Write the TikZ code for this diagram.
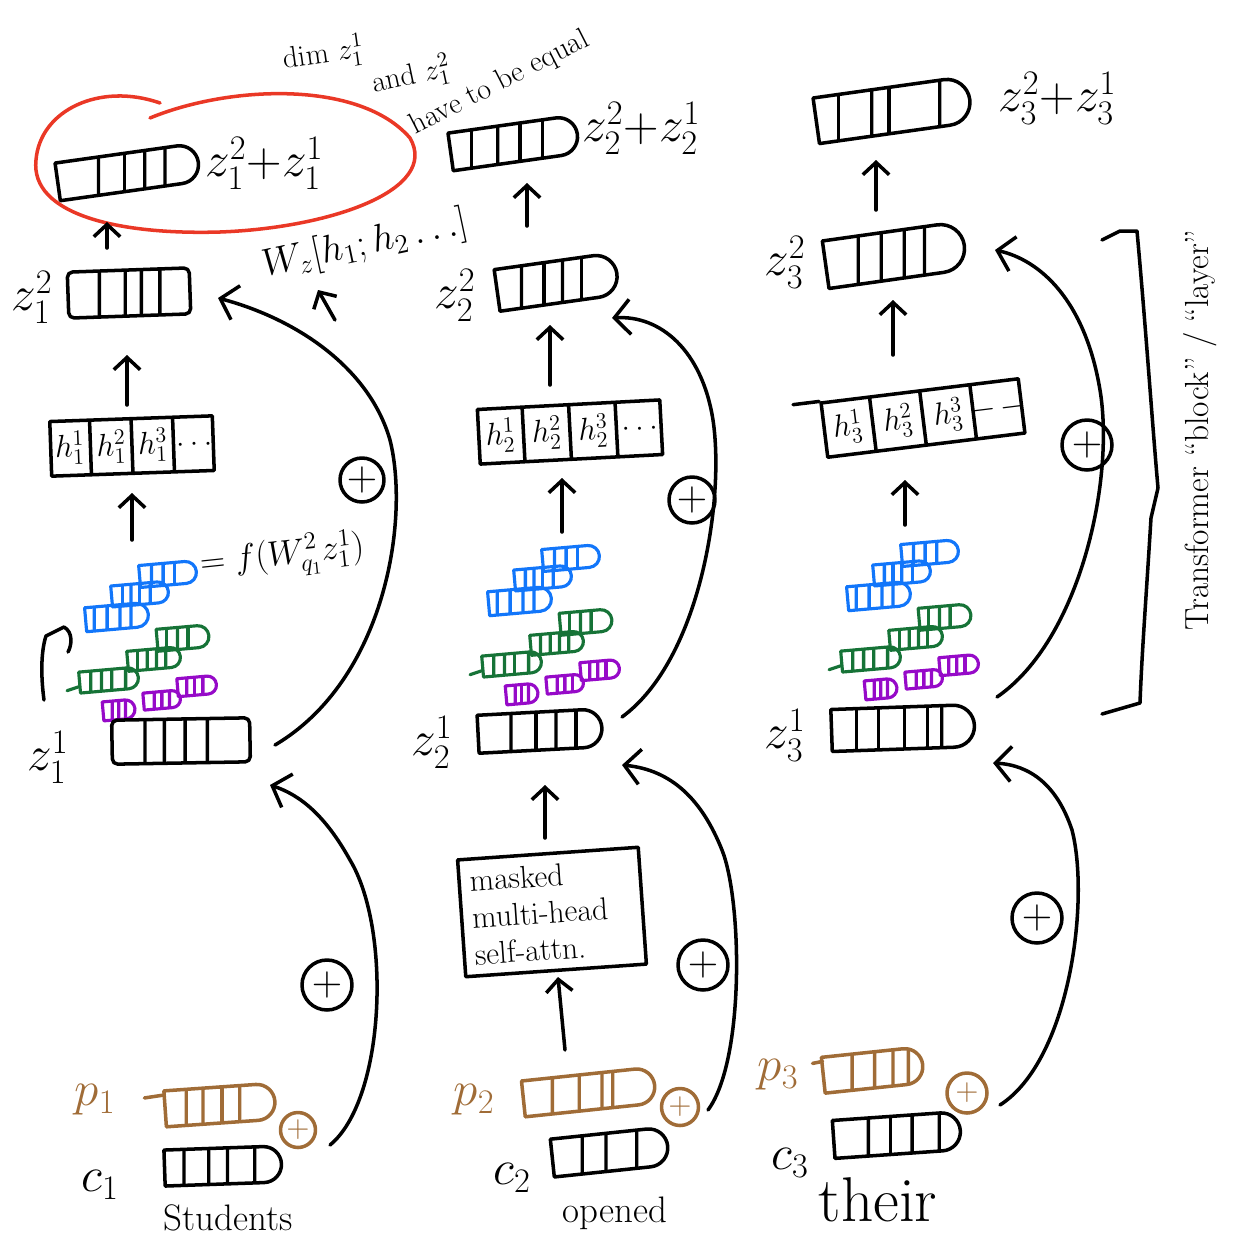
\RequirePackage{fix-cm}
\documentclass[tikz,border=0pt]{standalone}
\usepackage{fontspec}
\usetikzlibrary{arrows.meta,shapes.misc,shapes.multipart,calc}
\definecolor{inkblue}{RGB}{18,118,250}
\definecolor{inkgreen}{RGB}{22,115,55}
\definecolor{inkpurple}{RGB}{150,10,200}
\definecolor{inkbrown}{RGB}{160,108,55}
\definecolor{inkred}{RGB}{234,56,38}

\tikzset{
  ink/.style={line width=2pt, line cap=round, line join=round},
  cells/.style={path picture={\foreach \f in {#1}{\draw[line width=1.9pt]
      ($(path picture bounding box.south west)!\f!(path picture bounding box.south east)$) --
      ($(path picture bounding box.north west)!\f!(path picture bounding box.north east)$);}}},
  vec/.style={draw, rounded rectangle, rounded rectangle left arc=none, inner sep=0pt, line width=2pt},
  vecsq/.style={draw, rectangle, rounded corners=3pt, inner sep=0pt, line width=2pt},
  sv/.style={vec, line width=1.8pt, rotate=5},
  hrow/.style={draw, rectangle split, rectangle split horizontal, rectangle split parts=4,
    inner xsep=2pt, inner ysep=6pt, line width=2pt, font=\fontsize{18}{20}\selectfont},
  addc/.style={draw, circle, inner sep=0pt, line width=2pt, font=\fontsize{24}{26}\selectfont},
  lab/.style={font=\fontsize{28}{30}\selectfont, inner sep=0pt},
  word/.style={font=\fontsize{21}{24}\selectfont, inner sep=0pt},
  anno/.style={font=\fontsize{17}{19}\selectfont, inner sep=0pt},
  arr/.style={line width=2pt, -{Straight Barb[length=7pt,width=15pt]}},
  bigarr/.style={line width=2pt, -{Straight Barb[length=9pt,width=20pt]}},
}

% query / key / value vectors: three blue, three green, three purple
\newcommand\qkvstack[3]{%
  \begin{scope}[shift={(#2,#3)}]
    \node[sv, color=inkblue, minimum width=1.14cm, minimum height=0.44cm, cells={0.22,0.42,0.62}] (#1b1) at (0,0) {};
    \node[sv, color=inkblue, minimum width=1.14cm, minimum height=0.42cm, cells={0.2,0.35,0.5,0.68}] (#1b2) at (-28,20) {};
    \node[sv, color=inkblue, minimum width=1.26cm, minimum height=0.48cm, cells={0.15,0.35,0.55,0.72}] (#1b3) at (-51,43) {};
    \node[sv, color=inkgreen, minimum width=1.04cm, minimum height=0.44cm, cells={0.2,0.4,0.6}] (#1g1) at (15,64) {};
    \node[sv, color=inkgreen, minimum width=1.06cm, minimum height=0.40cm, cells={0.2,0.38,0.55,0.72}] (#1g2) at (-14,85) {};
    \node[sv, color=inkgreen, minimum width=1.18cm, minimum height=0.42cm, cells={0.2,0.38,0.55,0.78}] (#1g3) at (-59,106) {};
    \draw[inkgreen, ink, line width=1.8pt] ($(#1g3.west)+(1,4)$) -- ++(-12,4);
    \node[sv, color=inkpurple, minimum width=0.64cm, minimum height=0.38cm, cells={0.3,0.5,0.7}] (#1p1) at (-49,136) {};
    \node[sv, color=inkpurple, minimum width=0.74cm, minimum height=0.34cm, cells={0.3,0.5,0.7}] (#1p2) at (-6,126) {};
    \node[sv, color=inkpurple, minimum width=0.78cm, minimum height=0.36cm, cells={0.25,0.45,0.65}] (#1p3) at (29,112) {};
  \end{scope}}

\begin{document}
\begin{tikzpicture}[x=0.02cm, y=-0.02cm, line cap=round, line join=round]
\useasboundingbox (0,0) rectangle (1235,1245);

% ---------------- position 1: "Students" ----------------
\node[vec, rotate=8, minimum width=2.84cm, minimum height=0.76cm, cells={0.3,0.48,0.62,0.76}] (zt1) at (128,172) {};
\node[lab, anchor=west] (lzt1) at (205,163) {$z_1^2{+}z_1^1$};
\draw[inkred, ink] (150,118) .. controls (230,85) and (360,80) .. (410,138)
  .. controls (440,190) and (330,228) .. (220,232)
  .. controls (120,235) and (30,215) .. (36,160)
  .. controls (40,110) and (100,82) .. (160,103);

\node[anno, anchor=west, rotate=8] (dimnote) at (283,60) {dim $z_1^1$};
\node[anno, anchor=west, rotate=12] (andnote) at (372,84) {and $z_1^2$};
\node[anno, anchor=west, rotate=27] (havenote) at (412,128) {have to be equal};

\node[vecsq, rotate=2, minimum width=2.44cm, minimum height=0.92cm, cells={0.26,0.47,0.6,0.75}] (z12) at (129,293) {};
\node[lab] (lz12) at (32,297) {$z_1^2$};
\node[font=\fontsize{22}{24}\selectfont, inner sep=0pt, rotate=12] (wz) at (365,245) {$W_z[h_1;h_2\ldots]$};

\node[hrow, rotate=2] (h1) at (132,446) {\makebox[0.62cm]{$h_1^1$}\nodepart{two}\makebox[0.62cm]{$h_1^2$}\nodepart{three}\makebox[0.62cm]{$h_1^3$}\nodepart{four}\makebox[0.62cm]{$\ldots$}};

\qkvstack{s1}{168}{574}
\node[font=\fontsize{20}{22}\selectfont, inner sep=0pt, anchor=west, rotate=6] (fq) at (200,566) {$=f(W_{q_1}^{2}z_1^1)$};
\draw[ink] (44,700) .. controls (40,670) and (42,648) .. (46,636) -- (64,627) .. controls (73,632) and (72,645) .. (68,652);

\node[vecsq, rotate=1, minimum width=2.76cm, minimum height=0.88cm, cells={0.24,0.38,0.53,0.69}] (z11) at (181,741) {};
\node[lab] (lz11) at (48,757) {$z_1^1$};

\node[addc, minimum size=0.88cm] (add1) at (362,480) {$+$};
\node[addc, minimum size=1cm] (add1b) at (327,985) {$+$};

\node[vec, color=inkbrown, rotate=4, minimum width=2.2cm, minimum height=0.72cm, cells={0.2,0.35,0.52,0.68}] (p1v) at (220,1105) {};
\draw[inkbrown, ink] ($(p1v.west)+(1,-14)$) -- ++(-20,3);
\node[lab, text=inkbrown] (lp1) at (95,1100) {$p_1$};
\node[addc, color=inkbrown, minimum size=0.7cm, font=\fontsize{18}{20}\selectfont] (pp1) at (298,1130) {$+$};
\node[vec, rotate=2, minimum width=2.34cm, minimum height=0.72cm, cells={0.17,0.38,0.54,0.77}] (c1v) at (223,1166) {};
\node[lab] (lc1) at (100,1185) {$c_1$};
\node[word] (w1) at (228,1218) {Students};

% arrows, position 1
\draw[arr] ($(z12)+(-22,-45)$) -- ($(zt1)+(-21,50)$);
\draw[arr] ($(h1)+(-5,-41)$) -- ($(z12)+(-2,62)$);
\draw[arr] ($(s1b1)+(-36,-34)$) -- ($(h1)+(0,47)$);
\draw[arr] ($(wz)+(-30,75)$) -- ($(wz)+(-47,45)$);
\draw[bigarr] ($(z11)+(94,4)$) .. controls (385,680) and (410,520) .. (390,440)
  .. controls (370,370) and (300,320) .. ($(z12)+(89,5)$);
\draw[bigarr] ($(pp1)+(32,15)$) .. controls (385,1100) and (392,930) .. (350,860)
  .. controls (325,815) and (300,795) .. ($(z11)+(89,44)$);

% ---------------- position 2: "opened" ----------------
\node[vec, rotate=8, minimum width=2.56cm, minimum height=0.76cm, cells={0.18,0.38,0.55,0.72}] (zt2) at (514,143) {};
\node[lab, anchor=west] (lzt2) at (582,128) {$z_2^2{+}z_2^1$};
\node[vec, rotate=8, minimum width=2.42cm, minimum height=0.84cm, cells={0.22,0.4,0.55,0.7}] (z22) at (557,282) {};
\node[lab] (lz22) at (455,295) {$z_2^2$};
\node[hrow, rotate=3] (h2) at (570,432) {\makebox[0.72cm]{$h_2^1$}\nodepart{two}\makebox[0.72cm]{$h_2^2$}\nodepart{three}\makebox[0.72cm]{$h_2^3$}\nodepart{four}\makebox[0.72cm]{$\ldots$}};
\qkvstack{s2}{571}{558}
\node[vec, rotate=3, minimum width=2.48cm, minimum height=0.76cm, cells={0.27,0.47,0.63,0.79}] (z21) at (540,731) {};
\node[lab] (lz21) at (432,742) {$z_2^1$};
\node[draw, line width=2pt, rotate=4, text width=3.2cm, minimum height=2.3cm, align=left,
  font=\fontsize{18}{21}\selectfont, inner sep=6pt] (mask) at (552,912) {masked\\multi-head\\self-attn.};
\node[addc, minimum size=0.92cm] (add2) at (692,500) {$+$};
\node[addc, minimum size=1cm] (add2b) at (703,965) {$+$};
\node[vec, color=inkbrown, rotate=6, minimum width=2.64cm, minimum height=0.72cm, cells={0.23,0.43,0.6,0.68}] (p2v) at (589,1092) {};
\node[lab, text=inkbrown] (lp2) at (474,1100) {$p_2$};
\node[addc, color=inkbrown, minimum size=0.74cm, font=\fontsize{18}{20}\selectfont] (pp2) at (680,1107) {$+$};
\node[vec, rotate=6, minimum width=2.32cm, minimum height=0.76cm, cells={0.27,0.47,0.73}] (c2v) at (610,1152) {};
\node[lab] (lc2) at (512,1178) {$c_2$};
\node[word] (w2) at (615,1213) {opened};

% arrows, position 2
\draw[arr] ($(z22)+(-30,-56)$) -- ($(zt2)+(13,40)$);
\draw[arr] ($(h2)+(-20,-47)$) -- ($(z22)+(-7,43)$);
\draw[arr] ($(s2b1)+(-9,-26)$) -- ($(h2)+(-8,46)$);
\draw[arr] ($(mask)+(-7,-74)$) -- ($(z21)+(5,54)$);
\draw[arr] ($(p2v)+(-24,-42)$) -- ($(mask)+(6,65)$);
\draw[bigarr] ($(z21)+(82,-14)$) .. controls (700,660) and (725,500) .. (713,420)
  .. controls (702,350) and (660,315) .. ($(z22)+(55,36)$);
\draw[bigarr] ($(pp2)+(28,3)$) .. controls (745,1060) and (742,900) .. (722,850)
  .. controls (702,800) and (672,770) .. ($(z21)+(82,34)$);

% ---------------- position 3: "their" ----------------
\node[vec, rotate=8, minimum width=3.1cm, minimum height=0.92cm, cells={0.16,0.37,0.48,0.8}] (zt3) at (893,110) {};
\node[lab, anchor=west] (lzt3) at (998,98) {$z_3^2{+}z_3^1$};
\node[vec, rotate=8, minimum width=2.8cm, minimum height=0.96cm, cells={0.25,0.41,0.57,0.71}] (z32) at (895,255) {};
\node[lab] (lz32) at (785,262) {$z_3^2$};
\node[hrow, rotate=7] (h3) at (923,418) {\makebox[0.8cm]{$h_3^1$}\nodepart{two}\makebox[0.8cm]{$h_3^2$}\nodepart{three}\makebox[0.8cm]{$h_3^3$}\nodepart{four}\makebox[0.8cm]{$-\,-$}};
\draw[ink] ($(h3.north west)!-0.13!(h3.north east)$) -- (h3.north west);
\qkvstack{s3}{930}{553}
\node[vec, rotate=2, minimum width=2.86cm, minimum height=0.84cm, cells={0.18,0.33,0.51,0.67,0.77}] (z31) at (903,728) {};
\node[lab] (lz31) at (785,735) {$z_3^1$};
\node[addc, minimum size=1cm] (add3) at (1087,445) {$+$};
\node[addc, minimum size=1cm] (add3b) at (1037,918) {$+$};
\node[vec, color=inkbrown, rotate=6, minimum width=2.0cm, minimum height=0.72cm, cells={0.3,0.52,0.7,0.85}] (p3v) at (873,1070) {};
\draw[inkbrown, ink] ($(p3v.west)+(1,-14)$) -- ++(-10,2);
\node[lab, text=inkbrown] (lp3) at (778,1075) {$p_3$};
\node[addc, color=inkbrown, minimum size=0.8cm, font=\fontsize{18}{20}\selectfont] (pp3) at (967,1093) {$+$};
\node[vec, rotate=4, minimum width=2.54cm, minimum height=0.76cm, cells={0.28,0.45,0.62,0.83}] (c3v) at (897,1135) {};
\node[lab] (lc3) at (790,1163) {$c_3$};
\node[word, font=\fontsize{36}{40}\selectfont] (w3) at (878,1200) {their};

% arrows, position 3
\draw[arr] ($(z32)+(-19,-45)$) -- ($(zt3)+(-17,50)$);
\draw[arr] ($(h3)+(-30,-63)$) -- ($(z32)+(-2,45)$);
\draw[arr] ($(s3b1)+(-25,-28)$) -- ($(h3)+(-18,62)$);
\draw[bigarr] ($(z31)+(94,-31)$) .. controls (1080,640) and (1115,480) .. (1100,390)
  .. controls (1085,300) and (1040,260) .. ($(z32)+(100,-5)$);
\draw[bigarr] ($(pp3)+(33,12)$) .. controls (1070,1060) and (1090,900) .. (1072,830)
  .. controls (1057,785) and (1030,765) .. ($(z31)+(90,35)$);

% ---------------- the block brace ----------------
\draw[ink] (1102,240) -- (1120,231) -- (1137,231) .. controls (1146,330) and (1152,420) .. (1158,488)
  -- (1151,518) .. controls (1146,600) and (1142,650) .. (1140,703) -- (1102,714);
\node[font=\fontsize{19}{21}\selectfont, rotate=90, inner sep=0pt] (blk) at (1200,430) {Transformer ``block'' / ``layer''};
\end{tikzpicture}
\end{document}
